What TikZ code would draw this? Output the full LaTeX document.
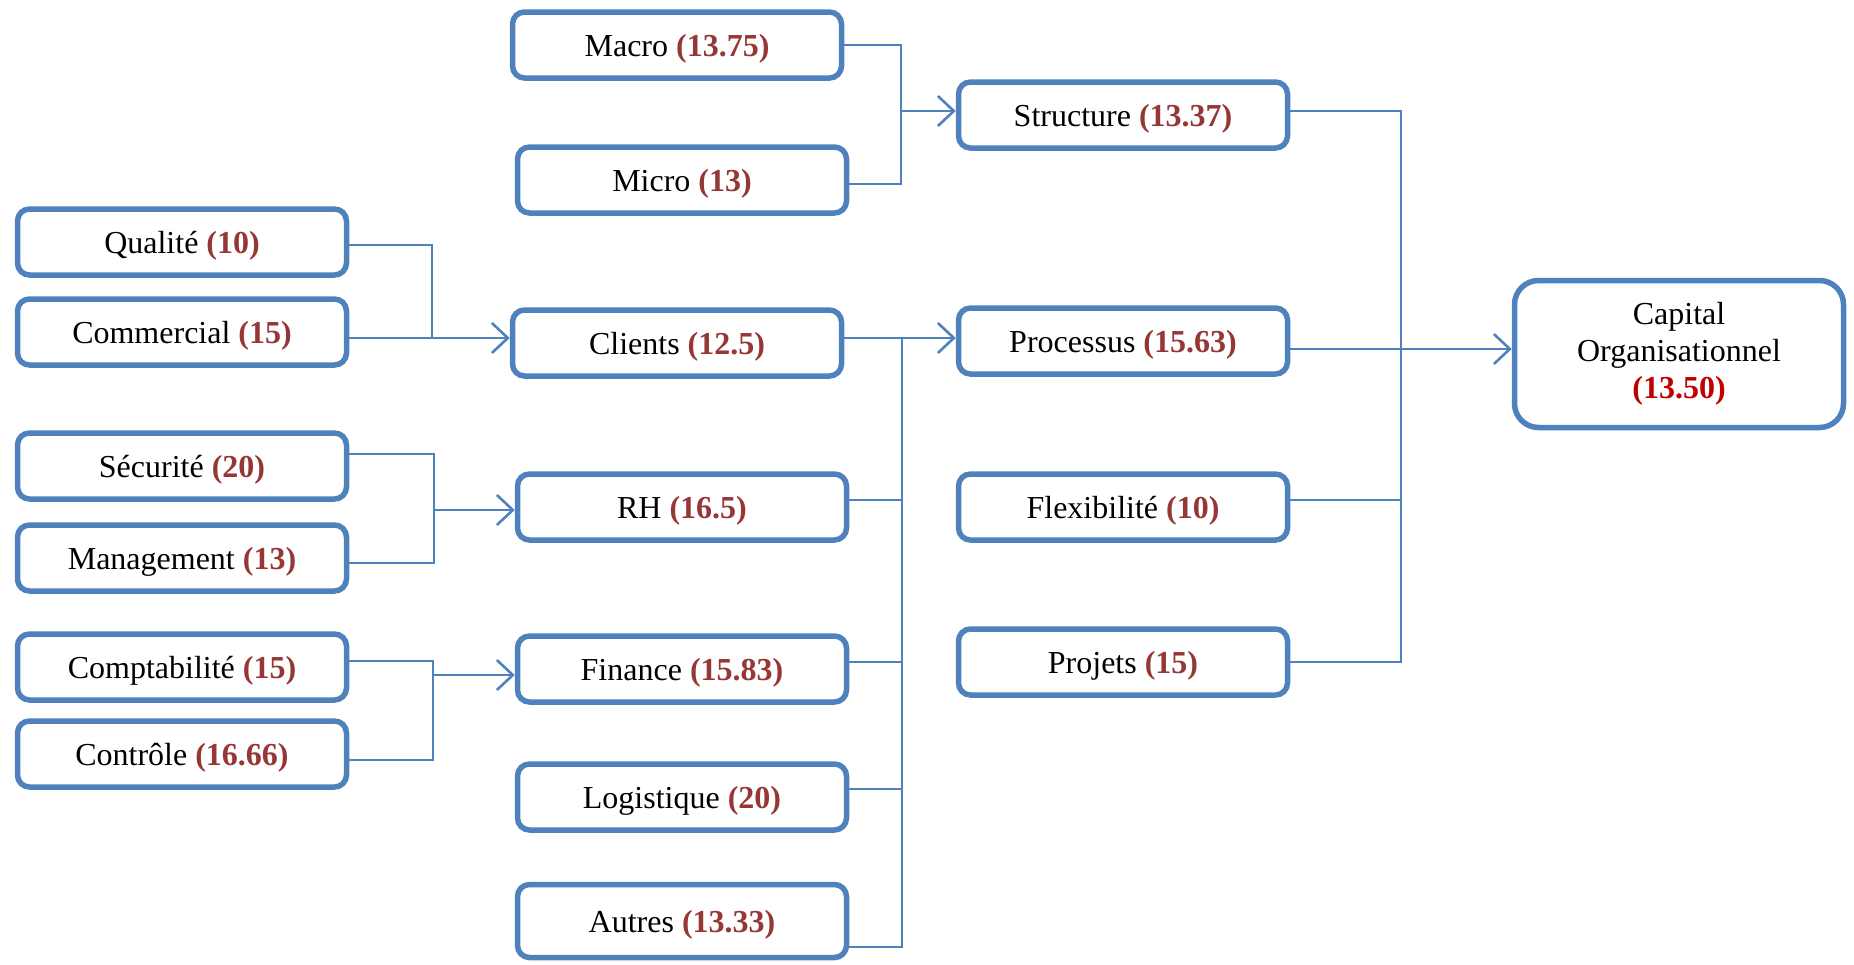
\documentclass[tikz,border=0pt]{standalone}
\usepackage{fontspec}
\setmainfont{Liberation Serif}
\usetikzlibrary{arrows.meta}
\definecolor{boxblue}{HTML}{4F81BD}
\definecolor{valred}{HTML}{953735}
\definecolor{totred}{HTML}{C00000}
\newcommand{\mval}[1]{\textbf{\textcolor{valred}{(#1)}}}
\begin{document}
\begin{tikzpicture}[x=1pt,y=-1pt,
  framed/.style={draw=boxblue, line width=5.5pt, rounded corners=12pt,
    minimum width=329pt, inner sep=0pt,
    font=\fontsize{32}{37}\selectfont, align=center},
  box/.style={framed, minimum height=66pt, text height=28pt, text depth=6pt},
  link/.style={draw=boxblue, line width=2.6pt},
  thin link/.style={draw=boxblue, line width=1.6pt},
  tip/.style={-{Straight Barb[length=16pt,width=30pt]}}]
\useasboundingbox (0,0) rectangle (1854,964);

% left column
\node[box] (qualite)    at (182,242) {Qualité \mval{10}};
\node[box] (commercial) at (182,332) {Commercial \mval{15}};
\node[box] (securite)   at (182,466) {Sécurité \mval{20}};
\node[box] (management) at (182,558) {Management \mval{13}};
\node[box] (compta)     at (182,667) {Comptabilité \mval{15}};
\node[box] (controle)   at (182,754) {Contrôle \mval{16.66}};

% middle column
\node[box] (macro)      at (677,45)  {Macro \mval{13.75}};
\node[box] (micro)      at (682,180) {Micro \mval{13}};
\node[box] (clients)    at (677,343) {Clients \mval{12.5}};
\node[box] (rh)         at (682,507) {RH \mval{16.5}};
\node[box] (finance)    at (682,669) {Finance \mval{15.83}};
\node[box] (logistique) at (682,797) {Logistique \mval{20}};
\node[box, minimum height=73pt] (autres) at (682,921) {Autres \mval{13.33}};

% right column
\node[box] (structure)  at (1123,115) {Structure \mval{13.37}};
\node[box] (processus)  at (1123,341) {Processus \mval{15.63}};
\node[box] (flex)       at (1123,507) {Flexibilité \mval{10}};
\node[box] (projets)    at (1123,662) {Projets \mval{15}};

% result
\node[framed, minimum height=147pt, rounded corners=24pt] (capital) at (1679,354)
  {Capital\\Organisationnel\\\textbf{\textcolor{totred}{(13.50)}}};

% junction points
\coordinate (jstruct) at (901,111);
\coordinate (jcli)    at (432,338);
\coordinate (jrh)     at (434,510);
\coordinate (jfin)    at (433,675);
\coordinate (jproc)   at (902,338);
\coordinate (jcap)    at (1401,349);

% Macro + Micro -> Structure
\draw[link] (macro.east) -| (jstruct);
\draw[link] ([yshift=-4pt]micro.east) -| (jstruct);
\draw[link,tip] (jstruct) -- (jstruct -| structure.west);

% Qualite + Commercial -> Clients
\draw[link] ([yshift=-3pt]qualite.east) -| (jcli);
\draw[thin link] ([yshift=-6pt]commercial.east) -- (jcli);
\draw[link,tip] (jcli) -- (jcli -| clients.west);

% Securite + Management -> RH
\draw[link] ([yshift=12pt]securite.east) -| (jrh);
\draw[thin link] ([yshift=-5pt]management.east) -| (jrh);
\draw[link,tip] (jrh) -- (jrh -| rh.west);

% Comptabilite + Controle -> Finance
\draw[link] ([yshift=6pt]compta.east) -| (jfin);
\draw[link] ([yshift=-6pt]controle.east) -| (jfin);
\draw[link,tip] (jfin) -- (jfin -| finance.west);

% middle column -> Processus
\draw[link] (clients.east |- jproc) -- (jproc);
\draw[thin link] ([yshift=7pt]rh.east) -| (jproc);
\draw[link] ([yshift=7pt]finance.east) -| (jproc);
\draw[thin link] ([yshift=8pt]logistique.east) -| (jproc);
\draw[link] ([yshift=-26pt]autres.east) -| (jproc);
\draw[link,tip] (jproc) -- (jproc -| processus.west);

% right column -> Capital Organisationnel
\draw[link] ([yshift=4pt]structure.east) -| (jcap);
\draw[thin link] ([yshift=7pt]flex.east) -| (jcap);
\draw[link] (projets.east) -| (jcap);
\draw[link] (processus.east |- jcap) -- (jcap);
\draw[link,tip] (jcap) -- (jcap -| capital.west);
\end{tikzpicture}
\end{document}
